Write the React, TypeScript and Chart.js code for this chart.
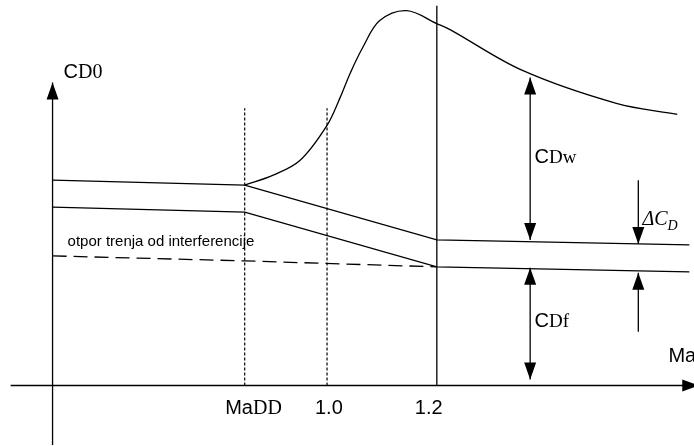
import { useEffect, useRef } from "react";
import { Chart, registerables } from "chart.js";

Chart.register(...registerables);

const WIDTH = 694;
const HEIGHT = 446;

// Visible extents of the Mach (x) and zero-lift drag (y) axes
const machRange = [0.40545, 1.66727];
const cdRange = [-0.012, 0.0772];

// Characteristic Mach numbers
const MA_DD = 0.85;
const MA_ONE = 1.0;
const MA_SUP = 1.2;

// Drag without wave contribution: upper and lower boundary of the ΔCD band
const bandMach = [0.5, MA_DD, MA_SUP, 1.66];
const bandUpperCd = [0.0412, 0.0402, 0.0292, 0.0282];
const bandLowerCd = [0.0358, 0.0348, 0.0238, 0.0228];

// Interference friction drag (dashed)
const interfMach = [0.5, MA_DD, MA_SUP];
const interfCd = [0.026, 0.025, 0.0238];

// Total drag including wave drag
const waveMach = [0.85, 0.902, 0.951, 1.0, 1.024, 1.042, 1.065, 1.096, 1.145, 1.2, 1.224, 1.356, 1.527, 1.638];
const waveCd = [0.0402, 0.0422, 0.0452, 0.0522, 0.0578, 0.0626, 0.0678, 0.0732, 0.0752, 0.0726, 0.0714, 0.0632, 0.0566, 0.0544];

// Axis lines
const xAxisMach = [0.4236, 1.678];
const yAxisMach = 0.5;
const yAxisCd = [-0.012, 0.0608];

// Vertical markers
const dashedMarkerTop = 0.0556;
const solidMarkerTop = 0.0762;

// Dimension arrows
const CDW_MACH = 1.37;
const cdwSpan = [0.0618, 0.0292];
const cdfSpan = [0.0236, 0.0012];
const DELTA_MACH = 1.567;
const deltaDown = [0.0412, 0.0284];
const deltaUp = [0.0108, 0.0226];

const SANS = '"Liberation Sans", Arial, sans-serif';
const SERIF = '"Liberation Serif", "Times New Roman", serif';

type Seg = { t: string; font: string; dy?: number };
type Label = { x: number; y: number; segs: Seg[] };

const labels: Label[] = [
  { x: 0.52, y: 0.0616, segs: [{ t: "C", font: `20px ${SANS}` }, { t: "D0", font: `20px ${SERIF}` }] },
  { x: 0.8145, y: -0.0058, segs: [{ t: "Ma", font: `20px ${SANS}` }, { t: "DD", font: `20px ${SERIF}` }] },
  { x: 0.978, y: -0.0058, segs: [{ t: "1.0", font: `20px ${SANS}` }] },
  { x: 1.16, y: -0.0058, segs: [{ t: "1.2", font: `20px ${SANS}` }] },
  { x: 1.6218, y: 0.0048, segs: [{ t: "Ma", font: `20px ${SANS}` }] },
  { x: 1.378, y: 0.0446, segs: [{ t: "C", font: `20px ${SANS}` }, { t: "Dw", font: `19px ${SERIF}` }] },
  { x: 1.378, y: 0.0118, segs: [{ t: "C", font: `20px ${SANS}` }, { t: "Df", font: `19px ${SERIF}` }] },
  {
    x: 1.5745,
    y: 0.0322,
    segs: [
      { t: "ΔC", font: `italic 20px ${SERIF}` },
      { t: "D", font: `italic 14px ${SERIF}`, dy: 5 },
    ],
  },
  { x: 0.5273, y: 0.028, segs: [{ t: "otpor trenja od interferencije", font: `15px ${SANS}` }] },
];

const pts = (xs: number[], ys: number[]) => xs.map((x, i) => ({ x, y: ys[i] }));
const vertical = (x: number, y0: number, y1: number) => [
  { x, y: y0 },
  { x, y: y1 },
];

const base = {
  showLine: true,
  pointRadius: 0,
  borderColor: "#000",
  borderWidth: 1.3,
  fill: false,
  tension: 0,
};

// Draws filled arrowheads at the ends of datasets flagged with `arrowheads`
const arrowPlugin = {
  id: "arrowheads",
  afterDatasetsDraw(chart: any) {
    const ctx = chart.ctx;
    const len = 17;
    const half = 6;
    chart.data.datasets.forEach((ds: any, i: number) => {
      if (!ds.arrowheads) return;
      const pts = chart.getDatasetMeta(i).data;
      if (pts.length < 2) return;
      const head = (tip: any, from: any) => {
        const dx = tip.x - from.x;
        const dy = tip.y - from.y;
        const d = Math.hypot(dx, dy) || 1;
        const ux = dx / d;
        const uy = dy / d;
        const bx = tip.x - ux * len;
        const by = tip.y - uy * len;
        ctx.beginPath();
        ctx.moveTo(tip.x, tip.y);
        ctx.lineTo(bx - uy * half, by + ux * half);
        ctx.lineTo(bx + uy * half, by - ux * half);
        ctx.closePath();
        ctx.fill();
      };
      ctx.save();
      ctx.fillStyle = "#000";
      const n = pts.length;
      if (ds.arrowheads === "end" || ds.arrowheads === "both") head(pts[n - 1], pts[n - 2]);
      if (ds.arrowheads === "start" || ds.arrowheads === "both") head(pts[0], pts[1]);
      ctx.restore();
    });
  },
};

// Draws the mixed-font annotation texts anchored in data coordinates
const labelPlugin = {
  id: "labels",
  afterDraw(chart: any) {
    const ctx = chart.ctx;
    const xs = chart.scales.x;
    const ys = chart.scales.y;
    ctx.save();
    ctx.fillStyle = "#000";
    ctx.textBaseline = "alphabetic";
    ctx.textAlign = "left";
    labels.forEach((l) => {
      let px = xs.getPixelForValue(l.x);
      const py = ys.getPixelForValue(l.y);
      l.segs.forEach((s) => {
        ctx.font = s.font;
        ctx.fillText(s.t, px, py + (s.dy || 0));
        px += ctx.measureText(s.t).width;
      });
    });
    ctx.restore();
  },
};

export default function App() {
  const ref = useRef<HTMLCanvasElement | null>(null);

  useEffect(() => {
    if (!ref.current) return;
    const chart = new Chart(ref.current, {
      type: "scatter",
      data: {
        datasets: [
          { ...base, data: pts(xAxisMach, [0, 0]), arrowheads: "end" } as any,
          { ...base, data: vertical(yAxisMach, yAxisCd[0], yAxisCd[1]), arrowheads: "end" } as any,
          { ...base, borderWidth: 1.2, borderDash: [3, 2], data: vertical(MA_DD, 0, dashedMarkerTop) },
          { ...base, borderWidth: 1.2, borderDash: [3, 2], data: vertical(MA_ONE, 0, dashedMarkerTop) },
          { ...base, data: vertical(MA_SUP, 0, solidMarkerTop) },
          { ...base, data: pts(bandMach, bandUpperCd) },
          { ...base, data: pts(bandMach, bandLowerCd) },
          { ...base, borderDash: [14, 7], data: pts(interfMach, interfCd) },
          { ...base, data: pts(waveMach, waveCd), tension: 0.35 },
          { ...base, data: vertical(CDW_MACH, cdwSpan[0], cdwSpan[1]), arrowheads: "both" } as any,
          { ...base, data: vertical(CDW_MACH, cdfSpan[0], cdfSpan[1]), arrowheads: "both" } as any,
          { ...base, data: vertical(DELTA_MACH, deltaDown[0], deltaDown[1]), arrowheads: "end" } as any,
          { ...base, data: vertical(DELTA_MACH, deltaUp[0], deltaUp[1]), arrowheads: "end" } as any,
        ],
      },
      options: {
        animation: false,
        responsive: false,
        layout: { padding: 0 },
        events: [],
        plugins: { legend: { display: false }, tooltip: { enabled: false } },
        scales: {
          x: { type: "linear", min: machRange[0], max: machRange[1], display: false },
          y: { type: "linear", min: cdRange[0], max: cdRange[1], display: false },
        },
      },
      plugins: [arrowPlugin, labelPlugin],
    });

    // Redraw once the label fonts are available to the canvas
    let alive = true;
    const fonts = Array.from(new Set(labels.flatMap((l) => l.segs.map((s) => s.font))));
    const fontSet: any = (document as any).fonts;
    if (fontSet && fontSet.load) {
      Promise.all(fonts.map((f) => fontSet.load(f, "CDΔ0aw"))).then(() => {
        if (alive) chart.update("none");
      });
    }
    return () => {
      alive = false;
      chart.destroy();
    };
  }, []);

  return (
    <div style={{ position: "fixed", left: 0, top: 0, width: WIDTH, height: HEIGHT, background: "#fff" }}>
      <canvas ref={ref} width={WIDTH} height={HEIGHT} style={{ display: "block" }} />
    </div>
  );
}
